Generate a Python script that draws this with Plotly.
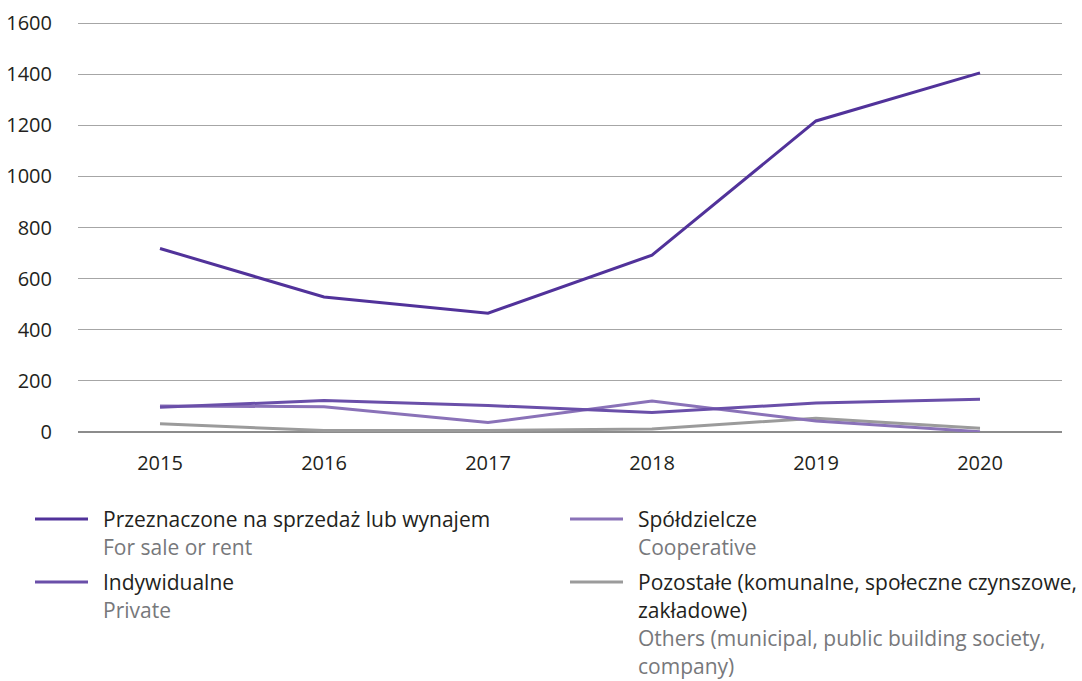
import plotly.graph_objects as go

years = ["2015", "2016", "2017", "2018", "2019", "2020"]
sale_rent = [718, 528, 465, 692, 1217, 1405]
private = [97, 123, 104, 76, 113, 128]
cooperative = [102, 99, 37, 121, 43, 1]
others = [32, 6, 6, 12, 54, 15]

names_pl = [["Przeznaczone na sprzedaż lub wynajem"], ["Indywidualne"], ["Spółdzielcze"],
            ["Pozostałe (komunalne, społeczne czynszowe,", "zakładowe)"]]
names_en = [["For sale or rent"], ["Private"], ["Cooperative"],
            ["Others (municipal, public building society,", "company)"]]
colors = ["#51329a", "#6a4fa9", "#8a72b8", "#9b9b9b"]
series = [sale_rent, private, cooperative, others]
y_ticks = [0, 200, 400, 600, 800, 1000, 1200, 1400, 1600]

FONT = "Open Sans"
fig = go.Figure()
for i in [3, 2, 1, 0]:
    fig.add_trace(go.Scatter(x=years, y=series[i], mode="lines",
                             line=dict(color=colors[i], width=3),
                             name=" ".join(names_pl[i]), showlegend=False))

L, R, T, B = 78, 20, 21, 249
W, H = 1082.0, 681.0
PW, PH = W - L - R, H - T - B

fig.update_layout(
    width=1082, height=681,
    margin=dict(l=L, r=R, t=T, b=B, autoexpand=False),
    paper_bgcolor="white", plot_bgcolor="white",
    font=dict(family=FONT, size=20, color="#231f20"),
    xaxis=dict(type="category", range=[-0.5, 5.5], showgrid=False, zeroline=False,
               automargin=False,
               showline=False, ticks="outside", ticklen=13, tickcolor="rgba(0,0,0,0)",
               tickfont=dict(size=20, color="#231f20")),
    yaxis=dict(range=[0, 1608], tickvals=y_ticks, showgrid=True,
               gridcolor="#a6a6a6", gridwidth=1, automargin=False,
               zeroline=True, zerolinecolor="#8c8c8c", zerolinewidth=1.5,
               showline=False, ticks="outside", ticklen=21, tickcolor="rgba(0,0,0,0)",
               tickfont=dict(size=20, color="#231f20")),
)

def px(x):
    return (x - L) / PW

def py(y):
    return (H - B - y) / PH

LH = 28
legend_pos = [(35, 519), (35, 582), (570, 519), (570, 582)]
for i, (lx, ly) in enumerate(legend_pos):
    fig.add_shape(type="line", xref="paper", yref="paper",
                  x0=px(lx), x1=px(lx + 53), y0=py(ly), y1=py(ly),
                  line=dict(color=colors[i], width=3))
    lines = [(t, "#231f20") for t in names_pl[i]] + [(t, "#77787b") for t in names_en[i]]
    for k, (t, c) in enumerate(lines):
        fig.add_annotation(xref="paper", yref="paper",
                           x=px(lx + 66), y=py(ly + k * LH),
                           xanchor="left", yanchor="middle", align="left", showarrow=False,
                           text=t, font=dict(family=FONT, size=21, color=c))

fig.write_html("out.html", config={"displayModeBar": False},
               post_script="document.body.style.margin='0';")
